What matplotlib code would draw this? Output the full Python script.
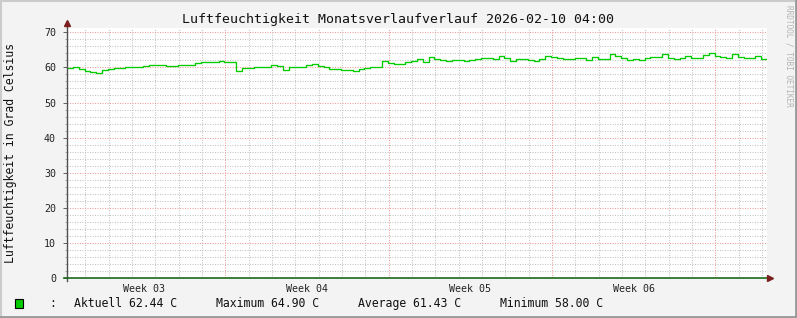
import matplotlib
matplotlib.use("Agg")
import matplotlib.pyplot as plt
from matplotlib.lines import Line2D
from matplotlib.patches import Rectangle
import numpy as np

# ---------------- data ----------------
title = "Luftfeuchtigkeit Monatsverlaufverlauf 2026-02-10 04:00"
ylabel = "Luftfeuchtigkeit in Grad Celsius"
watermark = "RRDTOOL / TOBI OETIKER"
week_labels = ["Week 03", "Week 04", "Week 05", "Week 06"]
week_label_hours = [84, 252, 420, 588]          # mid-week positions (hours from Sun 2026-01-11 00:00)
week_start_hours = [168, 336, 504, 672]
start_hour = 5.2
end_hour = 725.2
step_hours = 6
humidity = [
    59.7, 60.0, 59.5, 59.0, 58.8, 58.4, 59.2, 59.5, 59.7, 59.7,
    60.0, 60.0, 60.2, 60.4, 60.8, 60.65, 60.65, 60.5, 60.5, 60.8,
    60.8, 60.65, 61.2, 61.4, 61.4, 61.4, 61.7, 61.6, 61.4, 59.0,
    59.9, 59.9, 60.0, 60.2, 60.0, 60.6, 60.5, 59.2, 60.0, 60.2,
    60.2, 60.6, 61.0, 60.5, 60.0, 59.5, 59.4, 59.3, 59.2, 59.1,
    59.4, 59.7, 60.0, 60.1, 61.9, 61.2, 61.0, 61.1, 61.6, 61.7,
    62.3, 61.6, 62.9, 62.3, 62.1, 61.8, 62.1, 62.0, 61.9, 62.2,
    62.5, 62.7, 62.6, 62.3, 63.3, 62.6, 61.8, 62.3, 62.5, 62.0,
    61.8, 62.5, 63.3, 62.9, 62.8, 62.5, 62.5, 62.8, 62.7, 62.0,
    63.0, 62.5, 62.5, 63.7, 63.1, 62.8, 62.2, 62.5, 62.2, 62.6,
    62.9, 62.9, 63.7, 62.6, 62.5, 62.8, 63.1, 62.8, 62.8, 63.6,
    64.1, 63.2, 63.0, 62.8, 63.8, 62.9, 62.8, 62.6, 63.1, 62.5,
]
legend_items = ["Aktuell 62.44 C", "Maximum 64.90 C", "Average 61.43 C", "Minimum 58.00 C"]
y_max = 71.2

# ---------------- figure ----------------
W, H = 797, 318
fig = plt.figure(figsize=(W / 100, H / 100), dpi=100)
fig.patch.set_facecolor("#f3f3f3")
mono = "DejaVu Sans Mono"

def fx(px):
    return px / W

def fy(py):
    return 1 - py / H

x0, x1 = 67, 767
y_top, y_bot = 28, 278.3
ax = fig.add_axes([fx(x0), fy(y_bot), (x1 - x0) / W, (y_bot - y_top) / H])
ax.set_facecolor("white")
ax.set_xlim(start_hour, end_hour)
ax.set_ylim(0, y_max)
for s in ax.spines.values():
    s.set_visible(False)

minor_col = "#c4c4c4"
major_col = "#f09a9a"
dot = (0, (1, 1.4))
# minor grid
for h in np.arange(24, end_hour, 24):
    if h % 168 != 0:
        ax.axvline(h, color=minor_col, lw=0.75, ls=dot, zorder=1)
for v in np.arange(2, y_max, 2):
    if v % 10 != 0:
        ax.axhline(v, color=minor_col, lw=0.75, ls=dot, zorder=1)
# major grid
for h in week_start_hours:
    ax.axvline(h, color=major_col, lw=0.75, ls=dot, zorder=2)
for v in range(10, 71, 10):
    ax.axhline(v, color=major_col, lw=0.75, ls=dot, zorder=2)

# data (step)
t = start_hour + step_hours * np.arange(len(humidity))
tt = np.append(t, end_hour - 1.5)
vv = np.append(humidity, humidity[-1])
ax.step(tt, vv, where="post", color="#00cc00", lw=0.95, zorder=4)

# ticks
ax.set_yticks(range(0, 71, 10))
ax.set_yticks(np.arange(0, y_max, 2), minor=True)
ax.tick_params(axis="y", which="major", length=3, width=0.7, color="#606060",
               labelsize=7.2, pad=5)
ax.tick_params(axis="y", which="minor", length=1.5, width=0.6, color="#a0a0a0")
for lab in ax.get_yticklabels():
    lab.set_family(mono)
    lab.set_color("#222222")
ax.set_xticks(week_label_hours)
ax.set_xticklabels(week_labels, family=mono, fontsize=7.2, color="#222222")
ax.tick_params(axis="x", length=0, pad=4)

# axes lines with arrows
fig.add_artist(Line2D([fx(x0 - 0.3), fx(x0 - 0.3)], [fy(y_bot + 3), fy(24)],
                      color="#505050", lw=1.0))
fig.add_artist(Line2D([fx(x0 - 3), fx(769)], [fy(y_bot), fy(y_bot)],
                      color="#1a6b1a", lw=1.2))
fig.add_artist(Line2D([fx(x0 - 0.3)], [fy(22.5)], marker="^", markersize=4.5,
                      color="#7a1e1e", lw=0))
fig.add_artist(Line2D([fx(770)], [fy(y_bot)], marker=">", markersize=4.5,
                      color="#7a1e1e", lw=0))

# texts
fig.text(fx(398), fy(19), title, family=mono, fontsize=9.5, ha="center", va="center",
         color="#111111")
fig.text(fx(11), fy(153), ylabel, family=mono, fontsize=8.3, rotation=90,
         ha="center", va="center", color="#111111")
fig.text(fx(788.5), fy(5), watermark, family=mono, fontsize=5.6, rotation=270,
         ha="center", va="top", color="#b4b4b4")

# legend
ly = 303.5
fig.add_artist(Rectangle((fx(15), fy(308)), 8 / W, 9 / H, facecolor="#00cc00",
                         edgecolor="black", lw=0.8))
fig.text(fx(53), fy(ly), ":", family=mono, fontsize=8.3, ha="center", va="center",
         color="#111111")
for xs, txt in zip([74, 216, 358, 500], legend_items):
    fig.text(fx(xs), fy(ly), txt, family=mono, fontsize=8.3, ha="left", va="center",
             color="#111111")

# 3D-ish border
fig.add_artist(Line2D([0, 1], [fy(0.8), fy(0.8)], color="#cbcbcb", lw=1.5))
fig.add_artist(Line2D([fx(0.8), fx(0.8)], [0, 1], color="#cbcbcb", lw=1.5))
fig.add_artist(Line2D([0, 1], [fy(H - 1), fy(H - 1)], color="#999999", lw=2))
fig.add_artist(Line2D([fx(W - 1), fx(W - 1)], [0, 1], color="#999999", lw=2))

fig.savefig("out.png", dpi=100, facecolor=fig.get_facecolor())
